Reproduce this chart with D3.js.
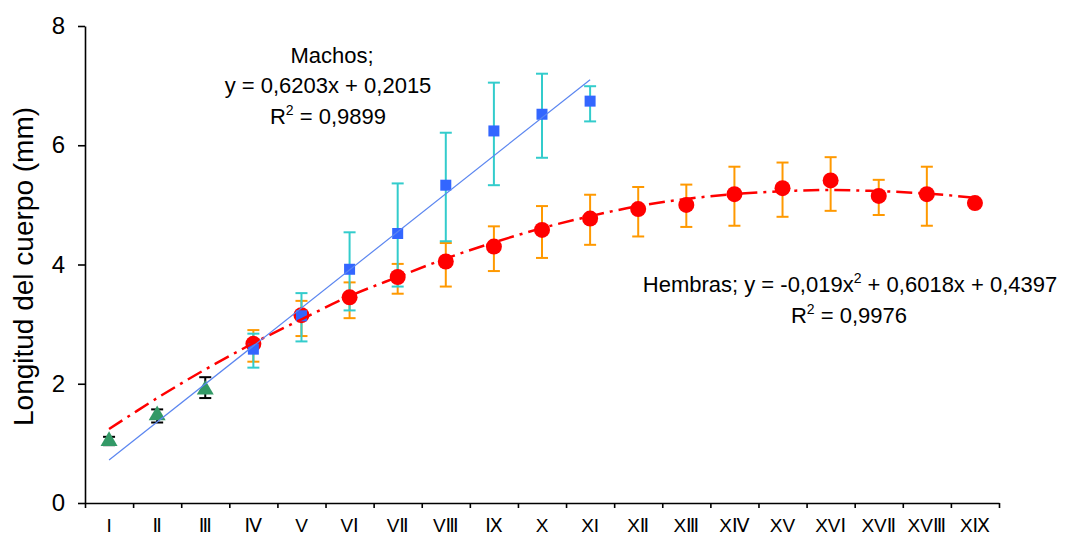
<!DOCTYPE html>
<html><head><meta charset="utf-8">
<script src="https://cdn.jsdelivr.net/npm/d3@7"></script>
<style>
html,body{margin:0;padding:0;background:#fff;}
svg{display:block;font-family:"Liberation Sans",Arial,sans-serif;}
</style></head>
<body>
<svg id="chart" width="1065" height="540"></svg>
<script>
// ---- data ----
const categories = ["I","Ⅱ","Ⅲ","Ⅳ","V","VⅠ","VⅡ","VⅢ","Ⅸ","X","XI","XⅡ","XⅢ","XⅣ","XV","XVⅠ","XVⅡ","XVⅢ","XⅨ"];
const yTicks = [0, 2, 4, 6, 8];

const juvCategories = ["I","Ⅱ","Ⅲ"];
const juvValues = [1.04, 1.47, 1.90];
const juvLow    = [0.97, 1.35, 1.76];
const juvHigh   = [1.11, 1.57, 2.11];

const machosCategories = ["Ⅳ","V","VⅠ","VⅡ","VⅢ","Ⅸ","X","XI"];
const machosValues = [2.58, 3.14, 3.92, 4.52, 5.33, 6.24, 6.52, 6.74];
const machosLow    = [2.27, 2.71, 3.23, 3.63, 4.39, 5.33, 5.79, 6.40];
const machosHigh   = [2.84, 3.52, 4.54, 5.36, 6.21, 7.05, 7.20, 6.99];

const hembrasCategories = ["Ⅳ","V","VⅠ","VⅡ","VⅢ","Ⅸ","X","XI","XⅡ","XⅢ","XⅣ","XV","XVⅠ","XVⅡ","XVⅢ","XⅨ"];
const hembrasValues = [2.67, 3.15, 3.45, 3.79, 4.05, 4.30, 4.58, 4.77, 4.93, 5.00, 5.18, 5.28, 5.41, 5.15, 5.18, 5.03];
const hembrasLow    = [2.37, 2.80, 3.10, 3.51, 3.63, 3.89, 4.11, 4.33, 4.47, 4.63, 4.65, 4.80, 4.90, 4.83, 4.65, 5.03];
const hembrasHigh   = [2.90, 3.39, 3.70, 4.01, 4.36, 4.64, 4.98, 5.17, 5.30, 5.34, 5.64, 5.71, 5.80, 5.42, 5.64, 5.03];

const machosTrendCategories = ["I","XI"];
const machosTrendValues = [0.72, 7.10];
const hembrasTrendValues = [1.24, 1.76, 2.24, 2.68, 3.08, 3.47, 3.79, 4.10, 4.37, 4.61, 4.81, 4.98, 5.10, 5.18, 5.23, 5.25, 5.23, 5.19, 5.12];

const yTitle = "Longitud del cuerpo (mm)";
const machosLabel = ["Machos;", "y = 0,6203x + 0,2015", "0,9899"];
const hembrasLabel = ["Hembras; y = -0,019x", " + 0,6018x + 0,4397", "0,9976"];

// ---- layout ----
const svg = d3.select("#chart");
const mLeft = 85, mRight = 999, mTop = 26, mBottom = 503;

const x = d3.scaleBand().domain(categories).range([mLeft, mRight]).padding(0);
const xc = c => x(c) + x.bandwidth() / 2;
const xEdge = d3.scaleLinear().domain([0, categories.length]).range([mLeft, mRight]);
const y = d3.scaleLinear().domain([0, 8]).range([mBottom, mTop]);

// y axis
const gy = svg.append("g").attr("transform", `translate(${mLeft},0)`)
  .call(d3.axisLeft(y).tickValues(yTicks).tickSize(7).tickSizeOuter(0).tickPadding(13));
gy.select(".domain").attr("stroke", "#000").attr("stroke-width", 1.6);
gy.selectAll(".tick line").attr("stroke", "#000").attr("stroke-width", 1.6);
gy.selectAll(".tick text").attr("font-size", 24).attr("fill", "#000")
  .attr("font-family", "'Liberation Sans',Arial,sans-serif");

// x axis: boundary ticks
const gx = svg.append("g").attr("transform", `translate(0,${mBottom})`)
  .call(d3.axisBottom(xEdge).tickValues(d3.range(categories.length + 1)).tickSize(5).tickSizeOuter(0).tickFormat(""));
gx.select(".domain").attr("stroke", "#000").attr("stroke-width", 1.6);
gx.selectAll(".tick line").attr("stroke", "#000").attr("stroke-width", 1.6);

// x axis: category labels
const gxl = svg.append("g").attr("transform", `translate(0,${mBottom})`)
  .call(d3.axisBottom(x).tickSize(0).tickPadding(16));
gxl.select(".domain").remove();
gxl.selectAll(".tick text").attr("font-size", 19).attr("fill", "#000")
  .attr("font-family", "'Liberation Sans','DejaVu Sans',Arial,sans-serif");

// y title
svg.append("text")
  .attr("transform", `translate(33,${(mTop + mBottom) / 2 + 2}) rotate(-90)`)
  .attr("text-anchor", "middle").attr("font-size", 28).attr("fill", "#000")
  .text(yTitle);

// ---- error bars ----
function errorBars(cats, lo, hi, color, cap) {
  const g = svg.append("g").attr("stroke", color).attr("stroke-width", 2).attr("fill", "none");
  cats.forEach((c, i) => {
    const cx = xc(c);
    g.append("line").attr("x1", cx).attr("x2", cx).attr("y1", y(lo[i])).attr("y2", y(hi[i]));
    g.append("line").attr("x1", cx - cap / 2).attr("x2", cx + cap / 2).attr("y1", y(hi[i])).attr("y2", y(hi[i]));
    g.append("line").attr("x1", cx - cap / 2).attr("x2", cx + cap / 2).attr("y1", y(lo[i])).attr("y2", y(lo[i]));
  });
}
errorBars(hembrasCategories, hembrasLow, hembrasHigh, "#FF9900", 12);
errorBars(machosCategories, machosLow, machosHigh, "#33CCCC", 12);
errorBars(juvCategories, juvLow, juvHigh, "#000000", 12);

// ---- markers ----
svg.append("g").selectAll("circle").data(hembrasCategories).join("circle")
  .attr("cx", c => xc(c)).attr("cy", (c, i) => y(hembrasValues[i])).attr("r", 8)
  .attr("fill", "#FF0000");

const sq = 11;
svg.append("g").selectAll("rect").data(machosCategories).join("rect")
  .attr("x", c => xc(c) - sq / 2).attr("y", (c, i) => y(machosValues[i]) - sq / 2)
  .attr("width", sq).attr("height", sq).attr("fill", "#3366FF");

const tri = d3.symbol().type(d3.symbolTriangle).size(125);
svg.append("g").selectAll("path").data(juvCategories).join("path")
  .attr("d", tri)
  .attr("transform", (c, i) => `translate(${xc(c)},${y(juvValues[i])})`)
  .attr("fill", "#339966");

// ---- trend lines ----
svg.append("path")
  .datum(categories.map((c, i) => [xc(c), y(hembrasTrendValues[i])]))
  .attr("d", d3.line().curve(d3.curveCatmullRom.alpha(0.5)))
  .attr("fill", "none").attr("stroke", "#FF0000").attr("stroke-width", 2.5)
  .attr("stroke-dasharray", "16,6,3,6");

svg.append("path")
  .datum(machosTrendCategories.map((c, i) => [xc(c), y(machosTrendValues[i])]))
  .attr("d", d3.line())
  .attr("fill", "none").attr("stroke", "#5B86F0").attr("stroke-width", 1.2);

// ---- annotations ----
const ann = svg.append("g").attr("fill", "#000").attr("font-size", 22).attr("text-anchor", "middle");
ann.append("text").attr("x", 332).attr("y", 63).text(machosLabel[0]);
ann.append("text").attr("x", 328).attr("y", 93).text(machosLabel[1]);
const r1 = ann.append("text").attr("x", 328).attr("y", 124);
r1.append("tspan").text("R");
r1.append("tspan").attr("font-size", 14).attr("dy", -9).text("2");
r1.append("tspan").attr("dy", 9).text(" = " + machosLabel[2]);

const h1 = ann.append("text").attr("x", 850).attr("y", 292);
h1.append("tspan").text(hembrasLabel[0]);
h1.append("tspan").attr("font-size", 14).attr("dy", -9).text("2");
h1.append("tspan").attr("dy", 9).text(hembrasLabel[1]);
const h2 = ann.append("text").attr("x", 849).attr("y", 323);
h2.append("tspan").text("R");
h2.append("tspan").attr("font-size", 14).attr("dy", -9).text("2");
h2.append("tspan").attr("dy", 9).text(" = " + hembrasLabel[2]);
</script>
</body></html>
